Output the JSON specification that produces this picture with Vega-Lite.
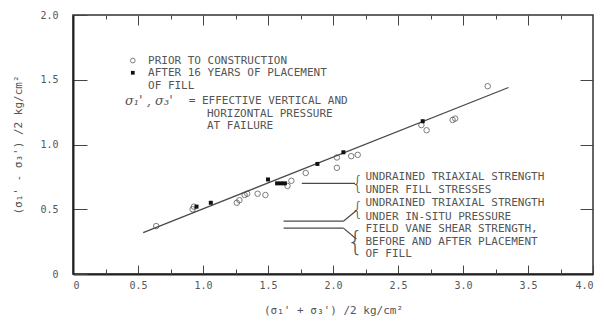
{
  "$schema": "https://vega.github.io/schema/vega-lite/v6.json",
  "autosize": "none",
  "width": 520,
  "height": 259,
  "padding": {"left": 73, "top": 15, "right": 11, "bottom": 48},
  "background": "#ffffff",
  "config": {
    "view": {"stroke": "#333333", "strokeWidth": 1.5},
    "axis": {"grid": false, "labelFont": "DejaVu Sans Mono", "labelFontSize": 10, "labelColor": "#555555", "tickColor": "#444444", "titleFont": "DejaVu Sans Mono", "titleFontSize": 11, "titleColor": "#555555", "titleFontWeight": "normal"},
    "text": {"font": "DejaVu Sans Mono", "fontSize": 11, "color": "#555555", "align": "left", "baseline": "middle"}
  },
  "datasets": {
    "open": [
      {"x": 0.64, "y": 0.37}, {"x": 0.92, "y": 0.50}, {"x": 0.93, "y": 0.52},
      {"x": 1.26, "y": 0.55}, {"x": 1.28, "y": 0.57}, {"x": 1.32, "y": 0.61}, {"x": 1.34, "y": 0.62},
      {"x": 1.42, "y": 0.62}, {"x": 1.48, "y": 0.61}, {"x": 1.65, "y": 0.68}, {"x": 1.68, "y": 0.72},
      {"x": 1.79, "y": 0.78}, {"x": 2.03, "y": 0.82}, {"x": 2.03, "y": 0.90}, {"x": 2.14, "y": 0.91},
      {"x": 2.19, "y": 0.92}, {"x": 2.68, "y": 1.15}, {"x": 2.72, "y": 1.11}, {"x": 2.92, "y": 1.19},
      {"x": 2.94, "y": 1.20}, {"x": 3.19, "y": 1.45}
    ],
    "filled": [
      {"x": 0.95, "y": 0.52}, {"x": 1.06, "y": 0.55}, {"x": 1.50, "y": 0.73}, {"x": 1.57, "y": 0.70},
      {"x": 1.60, "y": 0.70}, {"x": 1.63, "y": 0.70}, {"x": 1.88, "y": 0.85}, {"x": 2.08, "y": 0.94},
      {"x": 2.69, "y": 1.18}
    ],
    "fit": [{"x": 0.54, "y": 0.32}, {"x": 3.35, "y": 1.44}],
    "keys": [
      {"id": "A", "x": 1.76, "y": 0.70}, {"id": "A", "x": 2.17, "y": 0.70},
      {"id": "B", "x": 1.62, "y": 0.408}, {"id": "B", "x": 2.08, "y": 0.408},
      {"id": "C", "x": 1.62, "y": 0.354}, {"id": "C", "x": 2.08, "y": 0.354},
      {"id": "D", "x": 2.08, "y": 0.408}, {"id": "D", "x": 2.18, "y": 0.49},
      {"id": "E", "x": 2.08, "y": 0.354}, {"id": "E", "x": 2.18, "y": 0.27}
    ],
    "legendOpen": [{"x": 0.46, "y": 1.648}],
    "legendFilled": [{"x": 0.46, "y": 1.554}],
    "labels": [
      {"x": 0.577, "y": 1.648, "t": "PRIOR TO CONSTRUCTION"},
      {"x": 0.577, "y": 1.554, "t": "AFTER 16 YEARS OF PLACEMENT"},
      {"x": 0.577, "y": 1.455, "t": "OF FILL"},
      {"x": 0.89, "y": 1.335, "t": "= EFFECTIVE VERTICAL AND"},
      {"x": 1.03, "y": 1.238, "t": "HORIZONTAL PRESSURE"},
      {"x": 1.03, "y": 1.14, "t": "AT FAILURE"}
    ],
    "notes": [
      {"x": 2.25, "y": 0.746, "t": "UNDRAINED TRIAXIAL STRENGTH"},
      {"x": 2.25, "y": 0.646, "t": "UNDER FILL STRESSES"},
      {"x": 2.25, "y": 0.546, "t": "UNDRAINED TRIAXIAL STRENGTH"},
      {"x": 2.25, "y": 0.442, "t": "UNDER IN-SITU PRESSURE"},
      {"x": 2.25, "y": 0.345, "t": "FIELD VANE SHEAR STRENGTH,"},
      {"x": 2.25, "y": 0.250, "t": "BEFORE AND AFTER PLACEMENT"},
      {"x": 2.25, "y": 0.155, "t": "OF FILL"}
    ],
    "sigma": [{"x": 0.40, "y": 1.335, "t": "σ₁' , σ₃'"}],
    "braces2": [{"x": 2.235, "y": 0.696, "t": "{"}, {"x": 2.235, "y": 0.494, "t": "{"}],
    "braces3": [{"x": 2.235, "y": 0.25, "t": "{"}]
  },
  "resolve": {"axis": {"x": "independent", "y": "independent"}},
  "layer": [
    {
      "data": {"name": "fit"},
      "mark": {"type": "line", "color": "#4a4a4a", "strokeWidth": 1.3},
      "encoding": {
        "x": {"field": "x", "type": "quantitative", "scale": {"domain": [0, 4], "nice": false, "zero": false},
          "axis": {"orient": "bottom", "values": [0, 0.5, 1, 1.5, 2, 2.5, 3, 3.5, 4], "tickSize": -9, "labelPadding": 15,
            "labelExpr": "datum.value == 0 ? '0' : format(datum.value, '.1f')",
            "domainColor": "#222222", "domainWidth": 2, "title": "(σ₁' + σ₃') /2 kg/cm²", "titlePadding": 14}},
        "y": {"field": "y", "type": "quantitative", "scale": {"domain": [0, 2], "nice": false, "zero": false},
          "axis": {"orient": "left", "values": [0, 0.5, 1, 1.5, 2], "tickSize": -14, "labelPadding": 29,
            "labelExpr": "datum.value == 0 ? '0' : format(datum.value, '.1f')",
            "domainColor": "#222222", "domainWidth": 2, "title": "(σ₁' - σ₃') /2 kg/cm²", "titlePadding": 16}}
      }
    },
    {
      "data": {"name": "open"},
      "mark": {"type": "point", "shape": "circle", "filled": false, "size": 30, "stroke": "#444444", "strokeWidth": 1},
      "encoding": {
        "x": {"field": "x", "type": "quantitative",
          "axis": {"orient": "bottom", "values": [0.25, 0.75, 1.25, 1.75, 2.25, 2.75, 3.25, 3.75], "tickSize": -5, "labels": false, "domain": false, "title": null}},
        "y": {"field": "y", "type": "quantitative",
          "axis": {"orient": "right", "values": [0.5, 1, 1.5], "tickSize": -13, "labels": false, "domain": false, "title": null}}
      }
    },
    {
      "data": {"name": "filled"},
      "mark": {"type": "point", "shape": "square", "filled": true, "size": 16, "color": "#111111", "opacity": 1},
      "encoding": {
        "x": {"field": "x", "type": "quantitative",
          "axis": {"orient": "top", "values": [0.5, 1, 1.5, 2, 2.5, 3, 3.5], "tickSize": -10, "labels": false, "domain": false, "title": null}},
        "y": {"field": "y", "type": "quantitative", "axis": null}
      }
    },
    {
      "data": {"name": "keys"},
      "mark": {"type": "line", "color": "#4a4a4a", "strokeWidth": 1.2},
      "encoding": {
        "x": {"field": "x", "type": "quantitative",
          "axis": {"orient": "top", "values": [0.25, 0.75, 1.25, 1.75, 2.25, 2.75, 3.25, 3.75], "tickSize": -4, "labels": false, "domain": false, "title": null}},
        "y": {"field": "y", "type": "quantitative", "axis": null},
        "detail": {"field": "id"}
      }
    },
    {
      "data": {"name": "legendOpen"},
      "mark": {"type": "point", "shape": "circle", "filled": false, "size": 22, "stroke": "#444444", "strokeWidth": 1},
      "encoding": {
        "x": {"field": "x", "type": "quantitative", "axis": null},
        "y": {"field": "y", "type": "quantitative", "axis": null}
      }
    },
    {
      "data": {"name": "legendFilled"},
      "mark": {"type": "point", "shape": "square", "filled": true, "size": 14, "color": "#111111", "opacity": 1},
      "encoding": {
        "x": {"field": "x", "type": "quantitative", "axis": null},
        "y": {"field": "y", "type": "quantitative", "axis": null}
      }
    },
    {
      "data": {"name": "labels"},
      "mark": {"type": "text"},
      "encoding": {
        "x": {"field": "x", "type": "quantitative", "axis": null},
        "y": {"field": "y", "type": "quantitative", "axis": null},
        "text": {"field": "t"}
      }
    },
    {
      "data": {"name": "notes"},
      "mark": {"type": "text"},
      "encoding": {
        "x": {"field": "x", "type": "quantitative", "axis": null},
        "y": {"field": "y", "type": "quantitative", "axis": null},
        "text": {"field": "t"}
      }
    },
    {
      "data": {"name": "sigma"},
      "mark": {"type": "text", "font": "DejaVu Serif", "fontStyle": "italic", "fontSize": 13},
      "encoding": {
        "x": {"field": "x", "type": "quantitative", "axis": null},
        "y": {"field": "y", "type": "quantitative", "axis": null},
        "text": {"field": "t"}
      }
    },
    {
      "data": {"name": "braces2"},
      "mark": {"type": "text", "font": "DejaVu Sans", "fontSize": 19, "fontWeight": 200, "color": "#555555", "align": "right"},
      "encoding": {
        "x": {"field": "x", "type": "quantitative", "axis": null},
        "y": {"field": "y", "type": "quantitative", "axis": null},
        "text": {"field": "t"}
      }
    },
    {
      "data": {"name": "braces3"},
      "mark": {"type": "text", "font": "DejaVu Sans", "fontSize": 26, "fontWeight": 200, "color": "#555555", "align": "right"},
      "encoding": {
        "x": {"field": "x", "type": "quantitative", "axis": null},
        "y": {"field": "y", "type": "quantitative", "axis": null},
        "text": {"field": "t"}
      }
    }
  ]
}
